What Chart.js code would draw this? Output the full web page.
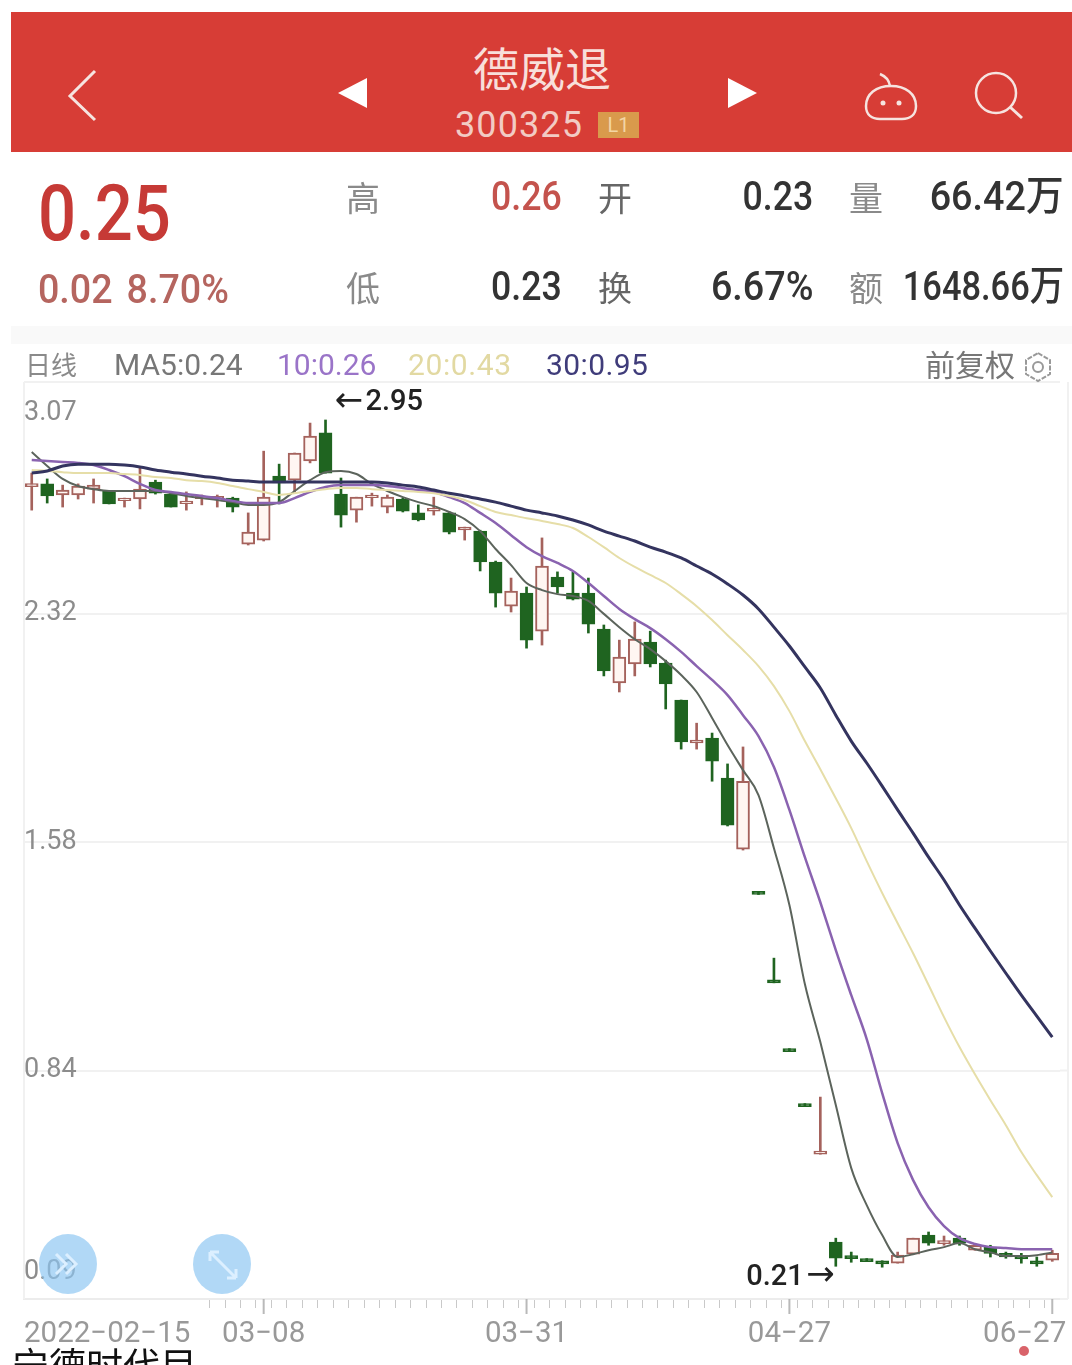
<!DOCTYPE html>
<html>
<head>
<meta charset="utf-8">
<title>德威退 300325</title>
<script src="https://cdn.jsdelivr.net/npm/chart.js@4/dist/chart.umd.js"></script>
<style>
html, body { margin: 0; padding: 0; background: #fff; }
body { position: relative; width: 1072px; height: 1365px; overflow: hidden; font-family: Roboto, "Noto Sans CJK SC", sans-serif; }
canvas { position: absolute; left: 0; top: 0; }
.t { position: absolute; white-space: nowrap; line-height: 1; }
.num { font-weight: 500; transform: scaleX(.87); transform-origin: left center; }
.r { transform-origin: right center; }
.cn { font-family: "Noto Sans CJK SC", sans-serif; color: #8a8a8a; font-size: 34px; }
#bar { position: absolute; left: 11px; top: 12px; width: 1061px; height: 140px; background: #d73d36; }
#band { position: absolute; left: 11px; top: 326px; width: 1061px; height: 18px; background: #f9f9f9; }
.fab { position: absolute; width: 58px; height: 60px; border-radius: 50%; background: rgba(140, 198, 242, .68); top: 1234px; }
</style>
</head>
<body>
<canvas id="kline" width="1072" height="1365"></canvas>

<div id="bar"></div>
<div id="band"></div>
<svg style="position:absolute;left:0;top:0" width="1072" height="160" fill="none">
  <path d="M95 71 L70 96 L95 120" stroke="#f6e4e0" stroke-width="3"/>
  <path d="M367 78 L338 93 L367 108 Z" fill="#fff"/>
  <path d="M728 78 L757 93 L728 108 Z" fill="#fff"/>
  <path d="M866 106 C866 94 876 86 891 86 C906 86 916 94 916 106 C916 115 910 119 902 119 L880 119 C872 119 866 115 866 106 Z" stroke="#f6e4e0" stroke-width="2.5"/>
  <path d="M890 86 C889 80 885 76 880 74" stroke="#f6e4e0" stroke-width="2.5"/>
  <circle cx="883" cy="103" r="2.5" fill="#f6e4e0"/><circle cx="899" cy="103" r="2.5" fill="#f6e4e0"/>
  <circle cx="996" cy="93" r="20" stroke="#f6e4e0" stroke-width="2.5"/>
  <path d="M1010 107 L1022 118" stroke="#f6e4e0" stroke-width="3"/>
</svg>
<div class="t" style="left:473px;top:43px;font:46px/1 'Noto Sans CJK SC';color:#f8dfda">德威退</div>
<div class="t" style="left:455px;top:107px;font-size:36px;color:#f2cbc4;letter-spacing:1.1px">300325</div>
<div class="t" style="left:598px;top:112px;width:41px;height:26px;background:#d99a4c;color:#f3d5a5;font-size:20px;line-height:26px;text-align:center">L1</div>

<div class="t num" style="left:38px;top:176px;font-size:77px;color:#c63a36">0.25</div>
<div class="t num" style="left:38px;top:270px;font-size:40px;color:#b5655f;word-spacing:5px;transform:scaleX(.94)">0.02 8.70%</div>

<div class="t cn" style="left:346px;top:180px">高</div>
<div class="t num" style="left:491px;top:176px;font-size:41px;color:#c4534d">0.26</div>
<div class="t cn" style="left:598px;top:180px;color:#666">开</div>
<div class="t num r" style="right:259px;top:176px;font-size:41px;color:#333">0.23</div>
<div class="t cn" style="left:849px;top:180px">量</div>
<div class="t num r" style="right:8px;top:176px;font-size:41px;color:#333;transform:scaleX(.92)">66.42万</div>

<div class="t cn" style="left:346px;top:270px">低</div>
<div class="t num" style="left:491px;top:266px;font-size:41px;color:#333">0.23</div>
<div class="t cn" style="left:598px;top:270px;color:#666">换</div>
<div class="t num r" style="right:259px;top:266px;font-size:41px;color:#333;transform:scaleX(.92)">6.67%</div>
<div class="t cn" style="left:849px;top:270px">额</div>
<div class="t num r" style="right:8px;top:266px;font-size:41px;color:#333;transform:scaleX(.84)">1648.66万</div>

<div class="t" style="left:25px;top:351px;font:26px/1 'Noto Sans CJK SC';color:#8a8a8a">日线</div>
<div class="t" style="left:114px;top:350px;font-size:30px;color:#777">MA5:0.24</div>
<div class="t" style="left:277px;top:350px;font-size:30px;color:#9a74c8">10:0.26</div>
<div class="t" style="left:408px;top:350px;font-size:30px;color:#e2d9a2;letter-spacing:.6px">20:0.43</div>
<div class="t" style="left:546px;top:350px;font-size:30px;color:#3f3c7a;letter-spacing:.4px">30:0.95</div>
<div class="t" style="left:925px;top:348px;font:30px/1 'Noto Sans CJK SC';color:#777">前复权</div>
<svg style="position:absolute;left:1022px;top:351px" width="32" height="32" fill="none" stroke="#999" stroke-width="2">
  <path d="M16 2 L28 9 L28 23 L16 30 L4 23 L4 9 Z" stroke-dasharray="5 1.5"/><circle cx="16" cy="16" r="5"/>
</svg>

<div class="fab" style="left:39px"></div>
<div class="fab" style="left:193px"></div>
<svg style="position:absolute;left:0;top:1230px" width="260" height="70" fill="none" stroke="#dcefff" stroke-width="3">
  <path d="M56 24 L66 34 L56 44 M66 24 L76 34 L66 44"/>
  <path d="M210 22 L236 48 M210 22 L210 31 M210 22 L219 22 M236 48 L236 39 M236 48 L227 48"/>
</svg>

<div class="t" style="left:12px;top:1344px;font:37px/1.1 'Noto Sans CJK SC';color:#111">宁德时代目</div>
<div style="position:absolute;left:1019px;top:1346px;width:10px;height:10px;border-radius:50%;background:#d9636a"></div>

<script>
const categories = ['02-15','02-16','02-17','02-18','02-21','02-22','02-23','02-24','02-25','02-28','03-01','03-02','03-03','03-04','03-07','03-08','03-09','03-10','03-11','03-14','03-15','03-16','03-17','03-18','03-21','03-22','03-23','03-24','03-25','03-28','03-29','03-30','03-31','04-01','04-06','04-07','04-08','04-11','04-12','04-13','04-14','04-15','04-18','04-19','04-20','04-21','04-22','04-25','04-26','04-27','06-02','06-06','06-07','06-08','06-09','06-10','06-13','06-14','06-15','06-16','06-17','06-20','06-21','06-22','06-23','06-24','06-27'];

const opens = [2.731,2.740,2.704,2.704,2.723,2.717,2.686,2.691,2.746,2.707,2.676,2.692,2.692,2.694,2.545,2.558,2.765,2.752,2.814,2.905,2.707,2.655,2.695,2.665,2.691,2.646,2.652,2.646,2.591,2.587,2.487,2.344,2.386,2.263,2.438,2.386,2.386,2.270,2.095,2.157,2.228,2.160,2.040,1.901,1.917,1.787,1.557,1.420,1.134,0.911,0.733,0.569,0.284,0.241,0.231,0.224,0.216,0.245,0.307,0.279,0.297,0.258,0.268,0.248,0.240,0.224,0.226];
const closes = [2.741,2.701,2.720,2.733,2.736,2.675,2.694,2.723,2.710,2.665,2.684,2.700,2.700,2.665,2.584,2.697,2.743,2.840,2.895,2.775,2.639,2.697,2.704,2.697,2.652,2.623,2.661,2.584,2.600,2.487,2.386,2.393,2.234,2.474,2.406,2.367,2.286,2.134,2.179,2.237,2.157,2.092,1.904,1.910,1.842,1.635,1.777,1.410,1.124,0.901,0.723,0.579,0.232,0.231,0.221,0.214,0.242,0.297,0.281,0.289,0.281,0.274,0.248,0.236,0.230,0.214,0.248];
const highs = [2.775,2.756,2.736,2.740,2.756,2.717,2.694,2.795,2.752,2.710,2.714,2.704,2.704,2.697,2.646,2.846,2.804,2.840,2.937,2.947,2.759,2.697,2.710,2.704,2.694,2.672,2.697,2.649,2.600,2.590,2.490,2.435,2.406,2.565,2.455,2.455,2.435,2.283,2.234,2.293,2.263,2.169,2.040,1.965,1.933,1.833,1.888,1.420,1.204,0.911,0.733,0.754,0.297,0.252,0.231,0.224,0.252,0.297,0.317,0.304,0.304,0.278,0.274,0.252,0.248,0.236,0.258];
const lows = [2.655,2.678,2.665,2.691,2.678,2.675,2.665,2.659,2.707,2.665,2.655,2.672,2.665,2.649,2.542,2.555,2.675,2.714,2.808,2.775,2.600,2.616,2.668,2.646,2.649,2.620,2.639,2.578,2.558,2.458,2.341,2.325,2.208,2.218,2.386,2.364,2.257,2.118,2.066,2.118,2.147,2.011,1.881,1.881,1.777,1.632,1.554,1.410,1.124,0.901,0.723,0.569,0.206,0.219,0.221,0.203,0.216,0.245,0.274,0.274,0.274,0.258,0.236,0.232,0.216,0.206,0.222];

const ma5 = [2.843,2.798,2.756,2.733,2.723,2.717,2.717,2.717,2.717,2.710,2.701,2.694,2.688,2.681,2.672,2.672,2.681,2.717,2.752,2.778,2.782,2.772,2.740,2.717,2.697,2.681,2.668,2.649,2.626,2.587,2.529,2.477,2.419,2.396,2.383,2.377,2.361,2.319,2.276,2.237,2.205,2.166,2.121,2.066,1.982,1.894,1.813,1.732,1.560,1.376,1.120,0.932,0.728,0.524,0.404,0.307,0.236,0.245,0.258,0.268,0.281,0.261,0.251,0.239,0.239,0.242,0.251];
const ma10 = [2.817,2.814,2.811,2.808,2.801,2.785,2.765,2.740,2.720,2.714,2.707,2.701,2.694,2.685,2.678,2.678,2.678,2.694,2.714,2.730,2.736,2.736,2.736,2.733,2.727,2.720,2.714,2.697,2.678,2.646,2.613,2.574,2.535,2.506,2.484,2.458,2.419,2.377,2.335,2.302,2.273,2.237,2.196,2.150,2.105,2.056,1.991,1.923,1.823,1.684,1.531,1.385,1.230,1.084,0.942,0.767,0.605,0.485,0.397,0.336,0.297,0.278,0.268,0.265,0.261,0.261,0.261];
const ma20 = [2.785,2.782,2.778,2.775,2.775,2.775,2.772,2.769,2.762,2.759,2.752,2.749,2.743,2.733,2.723,2.714,2.704,2.710,2.717,2.723,2.727,2.727,2.723,2.720,2.717,2.714,2.710,2.701,2.688,2.668,2.649,2.639,2.629,2.620,2.610,2.597,2.568,2.535,2.500,2.471,2.445,2.419,2.383,2.344,2.299,2.250,2.202,2.150,2.085,2.004,1.907,1.816,1.722,1.625,1.518,1.415,1.317,1.220,1.117,1.013,0.916,0.828,0.744,0.663,0.576,0.501,0.430];
const ma30 = [2.775,2.782,2.798,2.804,2.804,2.804,2.801,2.795,2.785,2.778,2.772,2.765,2.759,2.752,2.749,2.746,2.746,2.746,2.746,2.746,2.746,2.746,2.746,2.743,2.736,2.730,2.720,2.710,2.701,2.691,2.681,2.668,2.655,2.646,2.636,2.623,2.607,2.587,2.571,2.555,2.535,2.519,2.500,2.474,2.448,2.416,2.380,2.335,2.276,2.215,2.147,2.079,1.991,1.907,1.836,1.761,1.684,1.609,1.531,1.457,1.376,1.301,1.227,1.155,1.084,1.016,0.948];

const priceTicks = [3.07, 2.32, 1.58, 0.84, 0.09];
const dateTicks = ['03-08', '03-31', '04-27', '06-27'];

const upColor = '#a5625c';
const downColor = '#1f6420';
const colorAt = i => (closes[i] >= opens[i] ? upColor : downColor);

// labels, frame and long ticks sit in odd spots, so draw them by hand from the scales
const axisText = {
    id: 'axisText',
    beforeDatasetsDraw(chart) {
        const { ctx, chartArea, scales } = chart;
        const right = 1068;
        ctx.save();
        ctx.strokeStyle = '#f1f1f1';
        ctx.lineWidth = 2;
        priceTicks.slice(1, 4).forEach(v => {
            const y = scales.y.getPixelForValue(v);
            ctx.beginPath();
            ctx.moveTo(chartArea.right, y);
            ctx.lineTo(right, y);
            ctx.stroke();
        });
        ctx.beginPath();
        ctx.moveTo(chartArea.left, chartArea.top);
        ctx.lineTo(chartArea.left, chartArea.bottom);
        ctx.moveTo(right, chartArea.top);
        ctx.lineTo(right, chartArea.bottom);
        ctx.moveTo(chartArea.right, chartArea.bottom);
        ctx.lineTo(right, chartArea.bottom);
        ctx.stroke();
        ctx.restore();
    },
    afterDraw(chart) {
        const { ctx, chartArea, scales } = chart;
        ctx.save();
        ctx.font = '27px Roboto';
        ctx.fillStyle = '#8c8c8c';
        ctx.textBaseline = 'middle';
        ctx.textAlign = 'left';
        priceTicks.forEach((v, i) => {
            let y = scales.y.getPixelForValue(v);
            if (i === 0) y += 31;
            if (i === priceTicks.length - 1) y -= 30;
            ctx.fillText(v.toFixed(2), 24, y);
        });

        ctx.strokeStyle = '#b9b9b9';
        ctx.lineWidth = 2;
        ctx.fillStyle = '#999';
        ctx.font = '29.5px Roboto';
        dateTicks.forEach((d, i) => {
            const x = scales.x.getPixelForValue(categories.indexOf(d));
            ctx.beginPath();
            ctx.moveTo(x, chartArea.bottom);
            ctx.lineTo(x, chartArea.bottom + 15);
            ctx.stroke();
            ctx.textAlign = i === dateTicks.length - 1 ? 'right' : 'center';
            const lx = i === dateTicks.length - 1 ? x + 14 : x;
            ctx.fillText(d.replace('-', '\u2212'), lx, 1335);
        });
        ctx.textAlign = 'left';
        ctx.fillText('2022\u221202\u221215', 24, 1335);

        // extreme price markers
        const hi = highs.indexOf(Math.max(...highs));
        const lo = lows.indexOf(0.206);
        const hx = scales.x.getPixelForValue(hi) + 11;
        const hy = scales.y.getPixelForValue(highs[hi]) - 17;
        const lx = scales.x.getPixelForValue(lo) - 1;
        const ly = scales.y.getPixelForValue(lows[lo]) + 11;
        ctx.fillStyle = '#222';
        ctx.textAlign = 'left';
        ctx.font = '34px "DejaVu Sans"';
        ctx.fillText('\u2190', hx - 2, hy - 1);
        ctx.font = '500 29px Roboto';
        ctx.fillText('2.95', hx + 29, hy);
        ctx.textAlign = 'right';
        ctx.font = '34px "DejaVu Sans"';
        ctx.fillText('\u2192', lx, ly - 1);
        ctx.font = '500 29px Roboto';
        ctx.fillText('0.21', lx - 31, ly);
        ctx.restore();
    }
};

new Chart(document.getElementById('kline').getContext('2d'), {
    data: {
        labels: categories,
        datasets: [
            {
                type: 'line', label: 'MA30', data: ma30, order: 1,
                borderColor: '#34345f', borderWidth: 3, pointRadius: 0, cubicInterpolationMode: 'monotone'
            },
            {
                type: 'line', label: 'MA20', data: ma20, order: 1,
                borderColor: '#e6dea8', borderWidth: 2, pointRadius: 0, cubicInterpolationMode: 'monotone'
            },
            {
                type: 'line', label: 'MA10', data: ma10, order: 1,
                borderColor: '#8a63b0', borderWidth: 2.5, pointRadius: 0, cubicInterpolationMode: 'monotone'
            },
            {
                type: 'line', label: 'MA5', data: ma5, order: 1,
                borderColor: '#5c645c', borderWidth: 2, pointRadius: 0, cubicInterpolationMode: 'monotone'
            },
            {
                type: 'bar', label: 'body', order: 2, grouped: false, barThickness: 13,
                data: categories.map((c, i) => [opens[i], closes[i]]),
                backgroundColor: categories.map((c, i) => (closes[i] >= opens[i] ? '#fff6f2' : downColor)),
                borderColor: categories.map((c, i) => colorAt(i)),
                borderWidth: 2, borderSkipped: false
            },
            {
                type: 'bar', label: 'wick', order: 3, grouped: false, barThickness: 2,
                data: categories.map((c, i) => [lows[i], highs[i]]),
                backgroundColor: categories.map((c, i) => colorAt(i)),
                borderWidth: 0
            }
        ]
    },
    options: {
        responsive: false,
        animation: false,
        layout: { padding: { left: 24, right: 12, top: 382, bottom: 57 } },
        plugins: { legend: { display: false }, tooltip: { enabled: false } },
        scales: {
            x: {
                type: 'category',
                grid: {
                    drawOnChartArea: false,
                    tickLength: 9,
                    tickWidth: 1,
                    tickColor: ctx => (ctx.index >= 12 ? '#c9c9c9' : 'rgba(0,0,0,0)')
                },
                border: { color: '#ececec', width: 2 },
                ticks: { display: false }
            },
            y: {
                min: 0.1,
                max: 3.07,
                afterBuildTicks: axis => { axis.ticks = priceTicks.map(value => ({ value })); },
                grid: {
                    color: ctx => (ctx.tick && ctx.tick.value < 0.1 ? 'rgba(0,0,0,0)' : '#f1f1f1'),
                    lineWidth: 2,
                    drawTicks: false
                },
                border: { display: false },
                ticks: { display: false }
            }
        }
    },
    plugins: [axisText]
});
</script>
</body>
</html>
